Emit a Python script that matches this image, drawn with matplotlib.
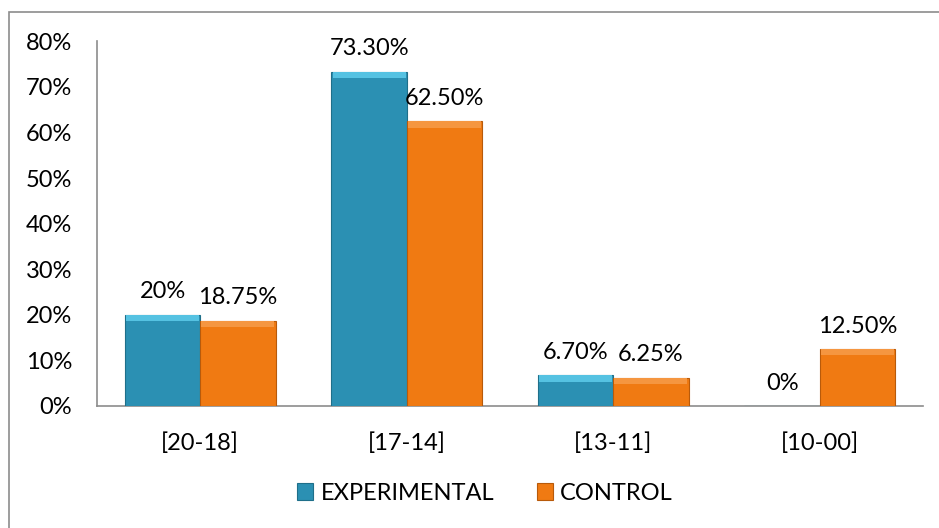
import matplotlib.pyplot as plt
from matplotlib.patches import Rectangle
import numpy as np

# ----------------------------- data ----------------------------- #
categories = ["[20-18]", "[17-14]", "[13-11]", "[10-00]"]
experimental = [0.20, 0.733, 0.067, 0.0]
control = [0.1875, 0.625, 0.0625, 0.125]
exp_labels = ["20%", "73.30%", "6.70%", "0%"]
ctl_labels = ["18.75%", "62.50%", "6.25%", "12.50%"]
yticks = [0, 0.1, 0.2, 0.3, 0.4, 0.5, 0.6, 0.7, 0.8]

# ----------------------------- style ----------------------------- #
plt.rcParams['font.family'] = ['Lato', 'DejaVu Sans']
fs = 17
teal = "#2B90B3"
teal_edge = "#1F6F8A"
orange = "#F07A12"
orange_edge = "#B85A0A"
grey = "#8C8C8C"

fig = plt.figure(figsize=(9.39, 5.28), dpi=100)
ax = fig.add_axes([97/939, 1 - 406/528, (923 - 97)/939, (406 - 41.4)/528])

x = np.arange(len(categories))
w = 0.365
b1 = ax.bar(x - w/2, experimental, w, color=teal, edgecolor=teal_edge, linewidth=0.8,
            label="EXPERIMENTAL", zorder=3)
b2 = ax.bar(x + w/2, control, w, color=orange, edgecolor=orange_edge, linewidth=0.8,
            label="CONTROL", zorder=3)

# light bevel strip on top of each bar
for bars, light in ((b1, "#55C2E2"), (b2, "#F59640")):
    for r in bars:
        hgt = r.get_height()
        if hgt > 0:
            strip = min(0.014, hgt * 0.3)
            ax.bar(r.get_x() + r.get_width()/2, strip, r.get_width()*0.97,
                   bottom=hgt - strip, color=light, linewidth=0, zorder=4)

for r, t in zip(b1, exp_labels):
    ax.annotate(t, (r.get_x() + r.get_width()/2, r.get_height()), xytext=(0, 9),
                textcoords="offset points", ha="center", va="bottom", fontsize=fs)
for r, t in zip(b2, ctl_labels):
    ax.annotate(t, (r.get_x() + r.get_width()/2, r.get_height()), xytext=(0, 9),
                textcoords="offset points", ha="center", va="bottom", fontsize=fs)

ax.set_xlim(-0.5, len(categories) - 0.5)
ax.set_ylim(0, 0.8)
ax.set_yticks(yticks)
ax.set_yticklabels([f"{int(round(v*100))}%" for v in yticks], fontsize=fs)
ax.set_xticks(x)
ax.set_xticklabels(categories, fontsize=fs)
ax.tick_params(axis="y", length=0, pad=18)
ax.tick_params(axis="x", length=0, pad=19)
for s in ("top", "right"):
    ax.spines[s].set_visible(False)
ax.spines["left"].set_color(grey)
ax.spines["bottom"].set_color(grey)
ax.spines["left"].set_linewidth(1.2)
ax.spines["bottom"].set_linewidth(1.2)

fig.legend(handles=[b1, b2], loc="center", bbox_to_anchor=(485/939, 1 - 493/528), ncol=2,
           frameon=False, fontsize=fs, handlelength=0.7, handleheight=0.7,
           handletextpad=0.3, columnspacing=1.8)

# outer chart frame (only left and top edges are visible in the crop)
fig.patches.append(Rectangle((9/939, -0.1), 1.2, 0.1 + 1 - 12/528, transform=fig.transFigure,
                             fill=False, edgecolor=grey, linewidth=1.2))

fig.savefig("out.png", dpi=100)
